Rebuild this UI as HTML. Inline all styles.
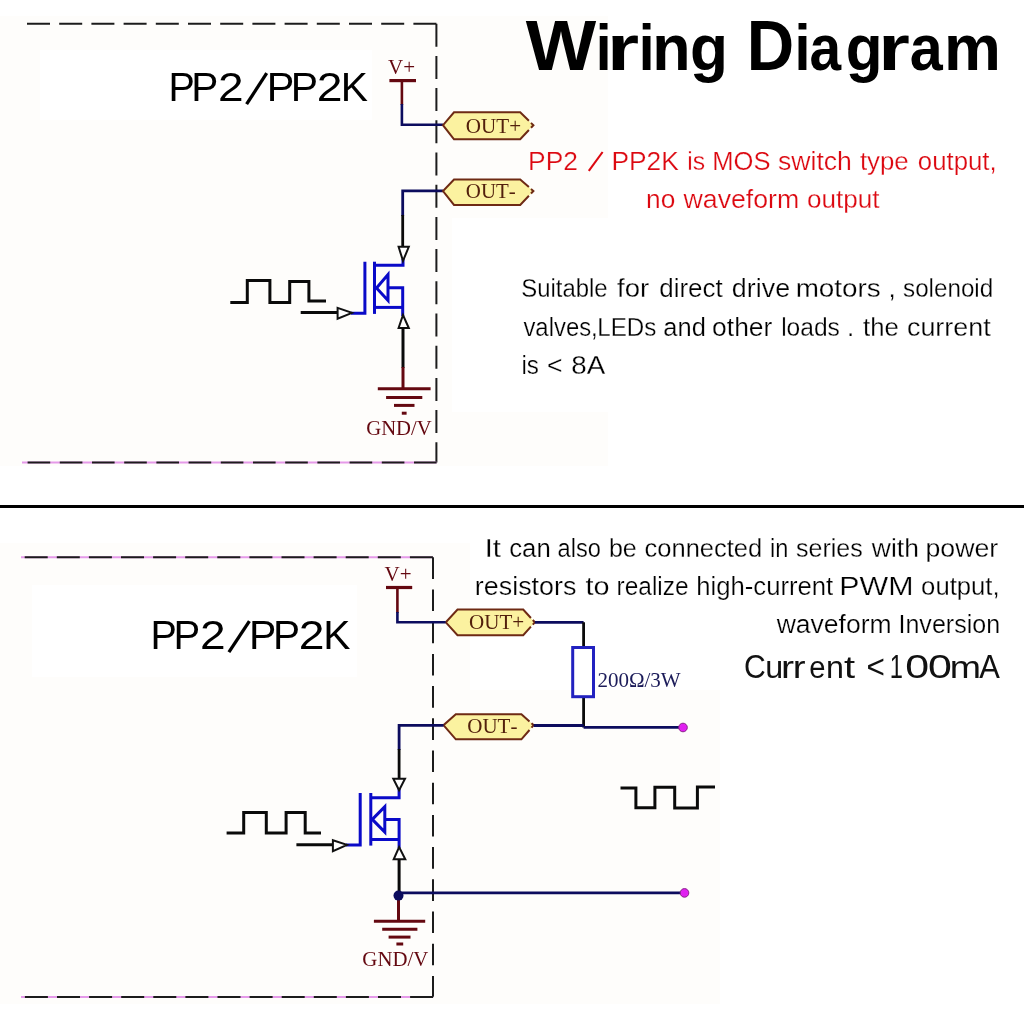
<!DOCTYPE html>
<html><head><meta charset="utf-8"><title>Wiring Diagram</title>
<style>
html,body{margin:0;padding:0;background:#fff;width:1024px;height:1024px;overflow:hidden}
svg{display:block;will-change:transform}
.s{font-family:"Liberation Sans",sans-serif}
.r{font-family:"Liberation Serif",serif}
#suit1 text,#suit2 text,#suit3 text,#it1 text,#it2 text,#wave text,#red1 text,#red2 text{stroke:#fff;stroke-width:0.25px}
.w{fill:none;stroke-linecap:butt;stroke-linejoin:miter}
</style></head><body>
<svg width="1024" height="1024" viewBox="0 0 1024 1024">
<!-- panels -->
<rect x="0" y="16" width="608" height="450" fill="#fefdfb"/>
<rect x="40" y="50" width="332" height="70" fill="#fff"/>
<rect x="0" y="543" width="720" height="461" fill="#fefdfb"/>
<rect x="32" y="585" width="325" height="92" fill="#fff"/>
<rect x="452" y="218" width="572" height="194" fill="#fff"/>
<rect x="470" y="525" width="554" height="165" fill="#fff"/>

<!-- separator -->
<rect x="0" y="505" width="1024" height="3" fill="#000"/>

<!-- ================= TOP PANEL ================= -->
<g class="w">
  <!-- dashed frame -->
  <path d="M436.4 23.8 H27" stroke="#1c1c1c" stroke-width="2" stroke-dasharray="23 9.2"/>
  <path d="M436.4 23.7 V462.6" stroke="#1c1c1c" stroke-width="2" stroke-dasharray="23 9.2"/>
  <path d="M436.6 462.6 H22" stroke="#e59ae9" stroke-width="2"/>
  <path d="M436.6 462.6 H22" stroke="#1c1c1c" stroke-width="2" stroke-dasharray="22.6 9.6"/>

  <!-- V+ -->
  <path d="M389.4 80.6 H416" stroke="#640810" stroke-width="3.2"/>
  <path d="M401.9 80.6 V105" stroke="#640810" stroke-width="2.6"/>
  <path d="M401.9 104 V124.8 H443" stroke="#0c0c5e" stroke-width="2.6"/>

  <!-- OUT- wire -->
  <path d="M443 190.8 H402.7 V216" stroke="#0c0c5e" stroke-width="2.8"/>
  <path d="M402.7 215 V247" stroke="#0a0a0a" stroke-width="2.8"/>

  <!-- MOSFET -->
  <g stroke="#0a0ac8" stroke-width="3">
    <path d="M403 259 V265.2 H374.5"/>
    <path d="M364.9 261.7 V313.3 H351"/>
    <path d="M374.5 261.7 V313.9"/>
    <path d="M374.5 307.4 H402.7"/>
    <path d="M387.4 287.7 H402.7 V316"/>
    <path d="M376.5 288 L388 274.6 V300.4 Z" stroke-linejoin="miter"/>
  </g>
  <path d="M398.6 246.8 H408.8 L403 260.9 Z" fill="#fff" stroke="#111" stroke-width="2"/>
  <path d="M398.6 328 H408.8 L403 315 Z" fill="#fff" stroke="#111" stroke-width="2"/>
  <path d="M403 328 V368" stroke="#0a0a0a" stroke-width="3"/>
  <path d="M403 367 V389" stroke="#640810" stroke-width="3"/>

  <!-- ground -->
  <g stroke="#640810" stroke-width="3">
    <path d="M377.8 388.8 H430.6"/>
    <path d="M386.1 397.4 H422.3"/>
    <path d="M394 405.4 H414.5"/>
    <path d="M401.8 413.2 H406.6"/>
  </g>

  <!-- square wave -->
  <path d="M230.3 302.4 H247.3 V280.5 H269.9 V302.4 H289.7 V281.6 H308.9 V301 H326" stroke="#0a0a0a" stroke-width="3"/>
  <path d="M300.7 312.6 H338" stroke="#0a0a0a" stroke-width="3"/>
  <path d="M337.6 307.9 L352 312.9 L337.6 318.8 Z" fill="#fff" stroke="#111" stroke-width="2"/>

  <!-- ports -->
</g>
<g id="ports">
<path d="M443 125.2 L454 112.3 H520.2 L532.1 123.9 L532.1 126.6 L520.2 139.3 H454 Z" fill="#fbf2a0"/>
<path d="M528.9 130.0 L520.2 139.3 H454 L443 125.2 L454 112.3 H520.2 L528.9 120.8 M531.0 122.9 L533.4 125.2 L531.0 127.7" fill="none" stroke="#6e2a14" stroke-width="2" stroke-linejoin="miter"/>
<path d="M443 191 L454 179.5 H520.2 L532.1 189.8 L532.1 192.4 L520.2 204.9 H454 Z" fill="#fbf2a0"/>
<path d="M528.9 195.7 L520.2 204.9 H454 L443 191 L454 179.5 H520.2 L528.9 187.1 M531.0 188.9 L533.4 191.0 L531.0 193.5" fill="none" stroke="#6e2a14" stroke-width="2" stroke-linejoin="miter"/>
<path d="M445.8 622.3 L457.5 609.6 H523.2 L533.7 621.0 L533.7 623.6 L523.2 635.2 H457.5 Z" fill="#fbf2a0"/>
<path d="M530.9 626.7 L523.2 635.2 H457.5 L445.8 622.3 L457.5 609.6 H523.2 L530.9 618.0 M532.8 620.0 L534.9 622.3 L532.8 624.6" fill="none" stroke="#6e2a14" stroke-width="2" stroke-linejoin="miter"/>
<path d="M443.5 725.2 L455.8 714.3 H521.4 L532.5 724.1 L532.5 726.6 L521.4 739.3 H455.8 Z" fill="#fbf2a0"/>
<path d="M529.5 730.0 L521.4 739.3 H455.8 L443.5 725.2 L455.8 714.3 H521.4 L529.5 721.5 M531.5 723.2 L533.7 725.2 L531.5 727.7" fill="none" stroke="#6e2a14" stroke-width="2" stroke-linejoin="miter"/>
</g>

<!-- ================= BOTTOM PANEL ================= -->
<g class="w">
  <path d="M432.9 557.3 H21" stroke="#e59ae9" stroke-width="2"/>
  <path d="M432.9 557.3 H21" stroke="#1c1c1c" stroke-width="2" stroke-dasharray="23 9.1"/>
  <path d="M433 557.3 V996.7" stroke="#1c1c1c" stroke-width="2" stroke-dasharray="21.6 10.6"/>
  <path d="M433.1 997 H21" stroke="#e59ae9" stroke-width="2"/>
  <path d="M433.1 997 H21" stroke="#1c1c1c" stroke-width="2" stroke-dasharray="23 9.1"/>

  <!-- V+ -->
  <path d="M386 587.5 H412.2" stroke="#640810" stroke-width="3.2"/>
  <path d="M397.4 587.5 V613" stroke="#640810" stroke-width="2.6"/>
  <path d="M397.4 612 V622.3 H445.6" stroke="#0c0c5e" stroke-width="2.6"/>

  <!-- right side -->
  <path d="M534.9 622.3 H583.6" stroke="#0c0c5e" stroke-width="2.8"/>
  <path d="M583.6 622.3 V647.5 M583.6 696.7 V727.4" stroke="#0a0a0a" stroke-width="2.8"/>
  <rect x="572.7" y="647.5" width="20.8" height="49.2" fill="#fff" stroke="#2222c0" stroke-width="3"/>
  <path d="M533.7 725.5 H583.6" stroke="#0c0c5e" stroke-width="2.8"/>
  <path d="M583.6 727.4 H683" stroke="#0c0c5e" stroke-width="2.8"/>

  <!-- OUT- left -->
  <path d="M443.5 725.4 H399.1 V750" stroke="#0c0c5e" stroke-width="2.8"/>
  <path d="M399.1 749 V779" stroke="#0a0a0a" stroke-width="2.8"/>

  <!-- MOSFET -->
  <g stroke="#0a0ac8" stroke-width="3">
    <path d="M399.1 788 V797.8 H370.8"/>
    <path d="M360.2 793 V845 H346"/>
    <path d="M370.8 793 V845.6"/>
    <path d="M370.8 839.5 H399.1"/>
    <path d="M384.8 819.4 H399.1 V848"/>
    <path d="M372.3 819.4 L384.8 806.7 V832 Z"/>
  </g>
  <path d="M393.3 778.8 H405 L399.1 790.2 Z" fill="#fff" stroke="#111" stroke-width="2"/>
  <path d="M393.7 859.3 H405.3 L399.1 847 Z" fill="#fff" stroke="#111" stroke-width="2"/>
  <path d="M399.1 859.3 V895.5" stroke="#0a0a0a" stroke-width="3"/>
  <path d="M398.5 892.9 H684.5" stroke="#0c0c5e" stroke-width="2.8"/>
  <path d="M398.5 896 V921.2" stroke="#640810" stroke-width="3"/>
  <circle cx="398.5" cy="895.6" r="5" fill="#0c0c5e" stroke="none"/>

  <!-- ground -->
  <g stroke="#640810" stroke-width="3">
    <path d="M373.9 921.2 H425.2"/>
    <path d="M382.2 929.3 H417.4"/>
    <path d="M388.6 937.1 H410.5"/>
    <path d="M396.4 944 H403.2"/>
  </g>

  <!-- square waves -->
  <path d="M226.6 833.1 H243.7 V812.6 H266.3 V833.1 H286.1 V812.6 H305.2 V833.1 H321" stroke="#0a0a0a" stroke-width="3"/>
  <path d="M296.4 844.7 H333" stroke="#0a0a0a" stroke-width="3"/>
  <path d="M332.9 840.2 L347 844.9 L332.9 851.1 Z" fill="#fff" stroke="#111" stroke-width="2"/>
  <path d="M620.5 788 H635.9 V807.8 H654.9 V787.2 H674.7 V808 H697.4 V787 H715" stroke="#0a0a0a" stroke-width="3"/>

  <!-- dots -->
  <circle cx="683" cy="727.5" r="4.3" fill="#e020f0" stroke="#8a208a" stroke-width="1"/>
  <circle cx="684.5" cy="892.9" r="4.3" fill="#e020f0" stroke="#8a208a" stroke-width="1"/>

  <!-- ports -->
</g>

<!-- ================= TEXT ================= -->
<g id="title">
<text transform="translate(525.83 69.8) scale(1.057 1)" font-size="70.64" font-weight="bold" font-family="Liberation Sans" fill="#000">W</text>
<text transform="translate(595.83 69.8) scale(0.868 1)" font-size="65.49" font-weight="bold" font-family="Liberation Sans" fill="#000">i</text>
<text transform="translate(607.07 69.8) scale(1.259 1)" font-size="65.49" font-weight="bold" font-family="Liberation Sans" fill="#000">r</text>
<text transform="translate(638.73 69.8) scale(0.868 1)" font-size="65.49" font-weight="bold" font-family="Liberation Sans" fill="#000">i</text>
<text transform="translate(652.26 69.8) scale(0.958 1)" font-size="65.49" font-weight="bold" font-family="Liberation Sans" fill="#000">n</text>
<text transform="translate(689.95 69.8) scale(0.950 1)" font-size="65.49" font-weight="bold" font-family="Liberation Sans" fill="#000">g</text>
<text transform="translate(746.70 69.8) scale(0.930 1)" font-size="70.64" font-weight="bold" font-family="Liberation Sans" fill="#000">D</text>
<text transform="translate(794.48 69.8) scale(0.879 1)" font-size="65.49" font-weight="bold" font-family="Liberation Sans" fill="#000">i</text>
<text transform="translate(809.54 69.8) scale(0.868 1)" font-size="65.49" font-weight="bold" font-family="Liberation Sans" fill="#000">a</text>
<text transform="translate(845.63 69.8) scale(0.920 1)" font-size="65.49" font-weight="bold" font-family="Liberation Sans" fill="#000">g</text>
<text transform="translate(878.35 69.8) scale(1.239 1)" font-size="65.49" font-weight="bold" font-family="Liberation Sans" fill="#000">r</text>
<text transform="translate(909.66 69.8) scale(0.905 1)" font-size="65.49" font-weight="bold" font-family="Liberation Sans" fill="#000">a</text>
<text transform="translate(944.08 69.8) scale(0.977 1)" font-size="65.49" font-weight="bold" font-family="Liberation Sans" fill="#000">m</text>
</g>



<g id="pp2top">
<text transform="translate(168.46 101) scale(0.949 1)" font-size="41.57" font-weight="normal" font-family="Liberation Sans" fill="#000">P</text>
<text transform="translate(191.37 101) scale(0.976 1)" font-size="41.57" font-weight="normal" font-family="Liberation Sans" fill="#000">P</text>
<text transform="translate(218.08 101) scale(1.109 1)" font-size="41.57" font-weight="normal" font-family="Liberation Sans" fill="#000">2</text>
<text transform="translate(266.71 101) scale(0.994 1)" font-size="41.57" font-weight="normal" font-family="Liberation Sans" fill="#000">P</text>
<text transform="translate(290.64 101) scale(0.985 1)" font-size="41.57" font-weight="normal" font-family="Liberation Sans" fill="#000">P</text>
<text transform="translate(316.77 101) scale(1.114 1)" font-size="41.57" font-weight="normal" font-family="Liberation Sans" fill="#000">2</text>
<text transform="translate(340.85 101) scale(0.981 1)" font-size="41.57" font-weight="normal" font-family="Liberation Sans" fill="#000">K</text>
<path d="M246.6 104.2 L266.7 73.2" stroke="#000" stroke-width="3.3" fill="none"/>
</g>
<g id="pp2bot">
<text transform="translate(150.46 648.6) scale(0.956 1)" font-size="41.28" font-weight="normal" font-family="Liberation Sans" fill="#000">P</text>
<text transform="translate(173.52 648.6) scale(0.969 1)" font-size="41.28" font-weight="normal" font-family="Liberation Sans" fill="#000">P</text>
<text transform="translate(200.08 648.6) scale(1.117 1)" font-size="41.28" font-weight="normal" font-family="Liberation Sans" fill="#000">2</text>
<text transform="translate(248.94 648.6) scale(0.992 1)" font-size="41.28" font-weight="normal" font-family="Liberation Sans" fill="#000">P</text>
<text transform="translate(273.07 648.6) scale(0.983 1)" font-size="41.28" font-weight="normal" font-family="Liberation Sans" fill="#000">P</text>
<text transform="translate(298.77 648.6) scale(1.122 1)" font-size="41.28" font-weight="normal" font-family="Liberation Sans" fill="#000">2</text>
<text transform="translate(323.15 648.6) scale(0.988 1)" font-size="41.28" font-weight="normal" font-family="Liberation Sans" fill="#000">K</text>
<path d="M228.9 652.2 L249.4 621.2" stroke="#000" stroke-width="3.3" fill="none"/>
</g>
<g id="current">
<text transform="translate(743.97 678) scale(0.887 1)" font-size="34.01" font-weight="normal" font-family="Liberation Sans" fill="#111">C</text>
<text transform="translate(765.21 678) scale(1.026 1)" font-size="31.42" font-weight="normal" font-family="Liberation Sans" fill="#111">u</text>
<text transform="translate(780.90 678) scale(1.248 1)" font-size="31.42" font-weight="normal" font-family="Liberation Sans" fill="#111">r</text>
<text transform="translate(792.85 678) scale(1.222 1)" font-size="31.42" font-weight="normal" font-family="Liberation Sans" fill="#111">r</text>
<text transform="translate(809.16 678) scale(0.929 1)" font-size="31.42" font-weight="normal" font-family="Liberation Sans" fill="#111">e</text>
<text transform="translate(826.06 678) scale(1.026 1)" font-size="31.42" font-weight="normal" font-family="Liberation Sans" fill="#111">n</text>
<text transform="translate(844.00 678) scale(1.271 1)" font-size="31.42" font-weight="normal" font-family="Liberation Sans" fill="#111">t</text>
<text transform="translate(866.55 678) scale(0.926 1)" font-size="34.01" font-weight="normal" font-family="Liberation Sans" fill="#111">&lt;</text>
<text transform="translate(889.70 678) scale(0.696 1)" font-size="34.01" font-weight="normal" font-family="Liberation Sans" fill="#111">1</text>
<text transform="translate(905.22 678) scale(1.261 1)" font-size="34.01" font-weight="normal" font-family="Liberation Sans" fill="#111">0</text>
<text transform="translate(927.92 678) scale(1.261 1)" font-size="34.01" font-weight="normal" font-family="Liberation Sans" fill="#111">0</text>
<text transform="translate(949.81 678) scale(1.195 1)" font-size="31.42" font-weight="normal" font-family="Liberation Sans" fill="#111">m</text>
<text transform="translate(979.34 678) scale(0.909 1)" font-size="34.01" font-weight="normal" font-family="Liberation Sans" fill="#111">A</text>
</g>
<g id="red1" font-family="Liberation Sans" style="font-kerning:none">
<text transform="translate(528.03 169.5) scale(0.996 1)" font-size="26.5" fill="#dc0810">PP2</text>
<text transform="translate(611.44 169.5) scale(0.994 1)" font-size="26.5" fill="#dc0810">PP2K</text>
<text transform="translate(687.35 169.5) scale(0.933 1)" font-size="26.5" fill="#dc0810">is</text>
<text transform="translate(712.30 169.5) scale(0.965 1)" font-size="26.5" fill="#dc0810">MOS</text>
<text transform="translate(777.96 169.5) scale(1.005 1)" font-size="26.5" fill="#dc0810">switch</text>
<text transform="translate(859.91 169.5) scale(0.975 1)" font-size="26.5" fill="#dc0810">type</text>
<text transform="translate(917.82 169.5) scale(0.974 1)" font-size="26.5" fill="#dc0810">output,</text>
<path d="M588.8 170.8 L602.6 152" stroke="#dc0810" stroke-width="2.1" fill="none"/>
</g>
<g id="red2" font-family="Liberation Sans" style="font-kerning:none">
<text transform="translate(646.05 208.2) scale(0.992 1)" font-size="26.5" fill="#dc0810">no</text>
<text transform="translate(683.54 208.2) scale(1.007 1)" font-size="26.5" fill="#dc0810">waveform</text>
<text transform="translate(806.90 208.2) scale(0.985 1)" font-size="26.5" fill="#dc0810">output</text>
</g>
<g id="suit1" font-family="Liberation Sans" style="font-kerning:none">
<text transform="translate(521.21 297.4) scale(0.920 1)" font-size="26" fill="#000">Suitable</text>
<text transform="translate(617.11 297.4) scale(1.060 1)" font-size="26" fill="#000">for</text>
<text transform="translate(659.21 297.4) scale(0.998 1)" font-size="26" fill="#000">direct</text>
<text transform="translate(731.87 297.4) scale(1.033 1)" font-size="26" fill="#000">drive</text>
<text transform="translate(795.65 297.4) scale(1.072 1)" font-size="26" fill="#000">motors</text>
<text transform="translate(888.49 297.4) scale(1.000 1)" font-size="26" fill="#000">,</text>
<text transform="translate(903.03 297.4) scale(0.931 1)" font-size="26" fill="#000">solenoid</text>
</g>
<g id="suit2" font-family="Liberation Sans" style="font-kerning:none">
<text transform="translate(523.42 335.5) scale(0.919 1)" font-size="26" fill="#000">valves,</text>
<text transform="translate(597.22 335.5) scale(0.929 1)" font-size="26" fill="#000">LEDs</text>
<text transform="translate(663.32 335.5) scale(0.980 1)" font-size="26" fill="#000">and</text>
<text transform="translate(712.09 335.5) scale(1.017 1)" font-size="26" fill="#000">other</text>
<text transform="translate(781.14 335.5) scale(0.945 1)" font-size="26" fill="#000">loads</text>
<text transform="translate(846.99 335.5) scale(1.000 1)" font-size="26" fill="#000">.</text>
<text transform="translate(863.01 335.5) scale(0.989 1)" font-size="26" fill="#000">the</text>
<text transform="translate(906.96 335.5) scale(1.034 1)" font-size="26" fill="#000">current</text>
</g>
<g id="suit3" font-family="Liberation Sans" style="font-kerning:none">
<text transform="translate(521.48 374.2) scale(0.932 1)" font-size="26" fill="#000">is</text>
<text transform="translate(546.99 374.2) scale(1.021 1)" font-size="26" fill="#000">&lt;</text>
<text transform="translate(571.29 374.2) scale(1.068 1)" font-size="26" fill="#000">8A</text>
</g>
<g id="it1" font-family="Liberation Sans" style="font-kerning:none">
<text transform="translate(484.73 556.7) scale(1.113 1)" font-size="26" fill="#000">It</text>
<text transform="translate(509.20 556.7) scale(0.992 1)" font-size="26" fill="#000">can</text>
<text transform="translate(557.60 556.7) scale(0.910 1)" font-size="26" fill="#000">also</text>
<text transform="translate(608.89 556.7) scale(0.962 1)" font-size="26" fill="#000">be</text>
<text transform="translate(644.52 556.7) scale(0.981 1)" font-size="26" fill="#000">connected</text>
<text transform="translate(770.02 556.7) scale(0.910 1)" font-size="26" fill="#000">in</text>
<text transform="translate(796.00 556.7) scale(0.962 1)" font-size="26" fill="#000">series</text>
<text transform="translate(871.84 556.7) scale(1.018 1)" font-size="26" fill="#000">with</text>
<text transform="translate(925.48 556.7) scale(1.028 1)" font-size="26" fill="#000">power</text>
</g>
<g id="it2" font-family="Liberation Sans" style="font-kerning:none">
<text transform="translate(474.81 594.9) scale(1.035 1)" font-size="26" fill="#000">resistors</text>
<text transform="translate(585.56 594.9) scale(1.109 1)" font-size="26" fill="#000">to</text>
<text transform="translate(616.58 594.9) scale(0.940 1)" font-size="26" fill="#000">realize</text>
<text transform="translate(696.22 594.9) scale(0.988 1)" font-size="26" fill="#000">high-current</text>
<text transform="translate(839.31 594.9) scale(1.169 1)" font-size="26" fill="#000">PWM</text>
<text transform="translate(921.12 594.9) scale(0.987 1)" font-size="26" fill="#000">output,</text>
</g>
<g id="wave" font-family="Liberation Sans" style="font-kerning:none">
<text transform="translate(776.64 633.2) scale(1.021 1)" font-size="26" fill="#000">waveform</text>
<text transform="translate(898.49 633.2) scale(0.963 1)" font-size="26" fill="#000">Inversion</text>
</g>
<g id="serif" font-family="Liberation Serif" style="font-kerning:none">
<text transform="translate(465.83 132.7) scale(0.968 1)" font-size="21.8" fill="#52200c">OUT+</text>
<text transform="translate(465.84 197.9) scale(0.959 1)" font-size="21.8" fill="#52200c">OUT-</text>
<text transform="translate(387.96 74.0) scale(1.052 1)" font-size="20" fill="#640810">V+</text>
<text transform="translate(366.25 434.7) scale(0.962 1)" font-size="21.5" fill="#640810">GND/V</text>
<text transform="translate(468.93 628.7) scale(0.968 1)" font-size="21.8" fill="#52200c">OUT+</text>
<text transform="translate(467.24 733.4) scale(0.965 1)" font-size="21.8" fill="#52200c">OUT-</text>
<text transform="translate(384.56 581.0) scale(1.052 1)" font-size="20" fill="#640810">V+</text>
<text transform="translate(362.35 966.4) scale(0.969 1)" font-size="21.5" fill="#640810">GND/V</text>
<text transform="translate(597.38 686.5) scale(0.978 1)" font-size="21.5" fill="#1c1c5a">200Ω/3W</text>
</g>
</svg>
</body></html>
